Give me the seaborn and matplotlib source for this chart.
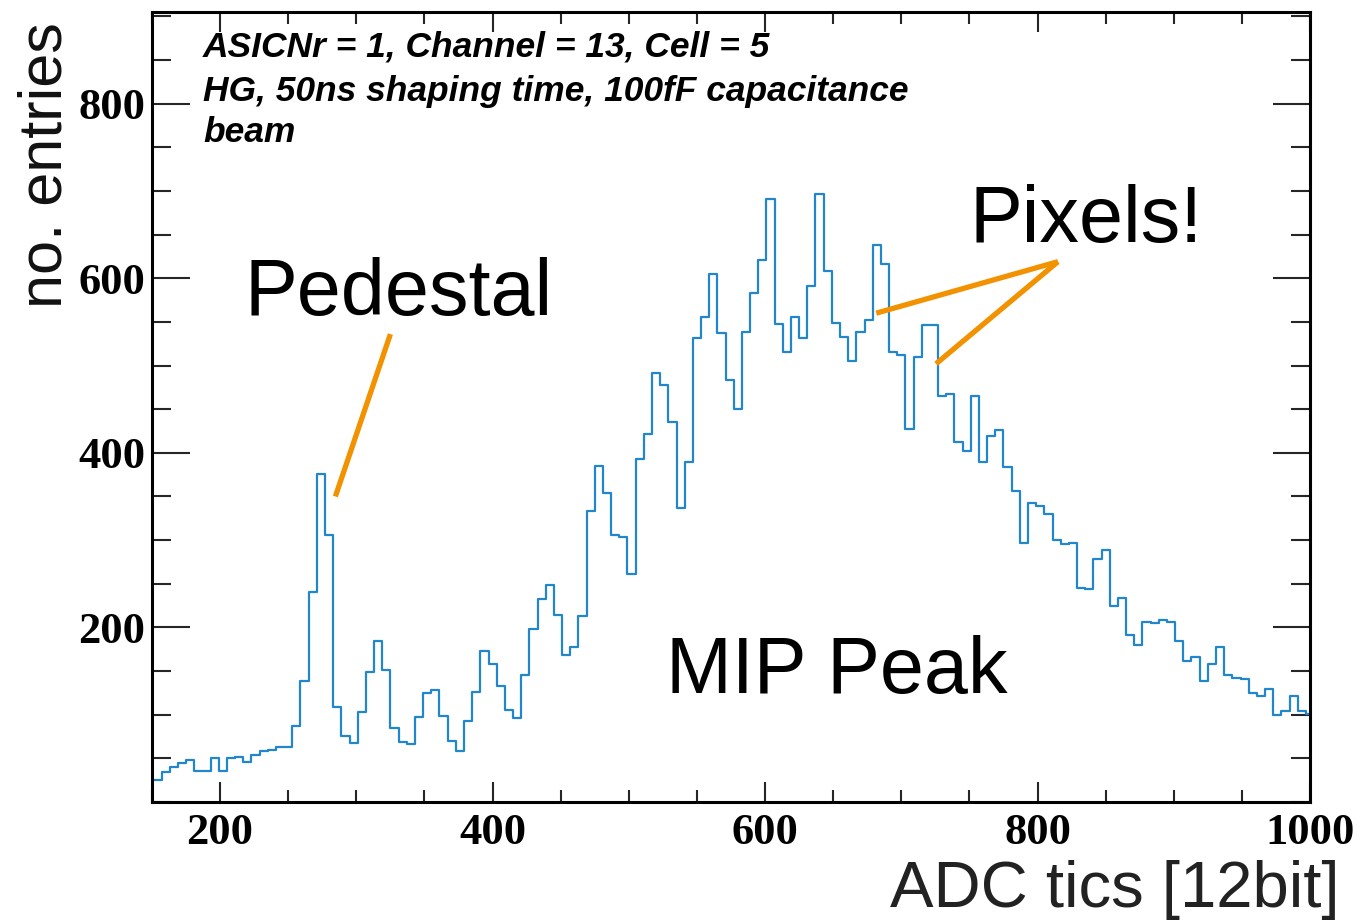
import numpy as np
import pandas as pd
import matplotlib
matplotlib.use("Agg")
import matplotlib.pyplot as plt
import seaborn as sns
from matplotlib.ticker import MultipleLocator, FixedLocator

# ---- data ----
bin_start = 145          # left edge of first bin (ADC tics)
bin_width = 6            # ADC tics per bin
counts = [
    25, 25, 34, 40, 45, 48, 35, 36, 50, 36, 50, 51, 46, 54, 58, 60, 63, 63, 87, 139,
    241, 376, 306, 109, 76, 68, 103, 149, 184, 151, 85, 69, 66, 97, 125, 128, 99, 70, 58, 93,
    126, 173, 158, 133, 105, 96, 145, 198, 233, 249, 214, 168, 178, 213, 333, 385, 354, 306, 304, 261,
    393, 421, 491, 478, 435, 337, 390, 531, 556, 605, 537, 484, 450, 538, 583, 621, 691, 548, 515, 556,
    531, 591, 696, 608, 549, 533, 505, 538, 552, 638, 616, 516, 512, 427, 510, 547, 546, 465, 467, 412,
    402, 465, 390, 419, 426, 384, 356, 297, 342, 339, 330, 300, 295, 297, 245, 244, 278, 289, 224, 234,
    191, 180, 206, 205, 209, 206, 184, 162, 166, 139, 158, 178, 146, 142, 141, 125, 122, 130, 100, 104,
    121, 104, 101,
]
x_ticks_major = [200, 400, 600, 800, 1000]
y_ticks_major = [200, 400, 600, 800]
info_lines = ["ASICNr = 1, Channel = 13, Cell = 5",
              "HG, 50ns shaping time, 100fF capacitance",
              "beam"]
# annotations in data coords
ped_text_pos = (218, 558)
ped_line = [(325, 536), (284.6, 350)]
pix_text_pos = (750, 641)
pix_apex = (815, 619)
pix_targets = [(681.6, 560), (725.5, 502)]
mip_text_pos = (527, 125)

edges = [bin_start + bin_width * i for i in range(len(counts) + 1)]
centers = [(edges[i] + edges[i + 1]) / 2 for i in range(len(counts))]
df = pd.DataFrame({"adc": centers, "n": counts})

# ---- figure ----
sns.set_theme(style="ticks")
plt.rcParams["font.family"] = ["Liberation Sans", "DejaVu Sans"]

W, H = 1357, 922
fig = plt.figure(figsize=(W / 100, H / 100), dpi=100, facecolor="white")
L, R, T, B = 152, 1310, 12, 802
ax = fig.add_axes([L / W, 1 - B / H, (R - L) / W, (B - T) / H])
ax.set_facecolor("white")

sns.histplot(data=df, x="adc", weights="n", bins=edges, element="step",
             fill=False, color="#2186cc", linewidth=1.6, ax=ax)

ax.set_xlim(150, 1000)
ax.set_ylim(0, 905)

for s in ax.spines.values():
    s.set_visible(True)
    s.set_linewidth(2.2)
    s.set_color("black")

ax.xaxis.set_major_locator(FixedLocator(x_ticks_major))
ax.xaxis.set_minor_locator(MultipleLocator(50))
ax.yaxis.set_major_locator(FixedLocator(y_ticks_major))
ax.yaxis.set_minor_locator(MultipleLocator(50))
ax.tick_params(axis="x", which="major", direction="in", length=14.5, width=1.5,
               top=True, bottom=True, pad=8)
ax.tick_params(axis="x", which="minor", direction="in", length=8.5, width=1.5,
               top=True, bottom=True)
ax.tick_params(axis="y", which="major", direction="in", length=27, width=1.5,
               left=True, right=True, pad=5)
ax.tick_params(axis="y", which="minor", direction="in", length=13.5, width=1.5,
               left=True, right=True)
for lab in ax.get_xticklabels() + ax.get_yticklabels():
    lab.set_fontfamily("Liberation Serif")
    lab.set_fontweight("bold")
    lab.set_fontsize(32)
    lab.set_color("black")

ax.set_ylabel("no. entries", fontsize=44, loc="top", color="#111111")
ax.yaxis.set_label_coords((75 - L) / (R - L), (B - 22) / (B - T))
ax.set_xlabel("ADC tics [12bit]", fontsize=47, loc="right", color="#222222",
              va="baseline")
ax.xaxis.set_label_coords((1340 - L) / (R - L), (B - 907) / (B - T))

# info text
info_y = [(B - 57) / (B - T), (B - 101) / (B - T), (B - 142) / (B - T)]
for line, yy in zip(info_lines, info_y):
    ax.text((203 - L) / (R - L), yy, line, transform=ax.transAxes,
            fontsize=25.5, fontweight="bold", fontstyle="italic",
            va="baseline", ha="left", color="black")

orange = "#f39200"
ax.text(*ped_text_pos, "Pedestal", fontsize=57, va="baseline", ha="left", color="black")
ax.plot([p[0] for p in ped_line], [p[1] for p in ped_line], color=orange, lw=3.8,
        solid_capstyle="butt")
ax.text(*pix_text_pos, "Pixels!", fontsize=57, va="baseline", ha="left", color="black")
for tgt in pix_targets:
    ax.plot([pix_apex[0], tgt[0]], [pix_apex[1], tgt[1]], color=orange, lw=3.8,
            solid_capstyle="butt")
ax.text(*mip_text_pos, "MIP Peak", fontsize=57, va="baseline", ha="left", color="black")

fig.savefig("out.png", dpi=100, facecolor="white")
